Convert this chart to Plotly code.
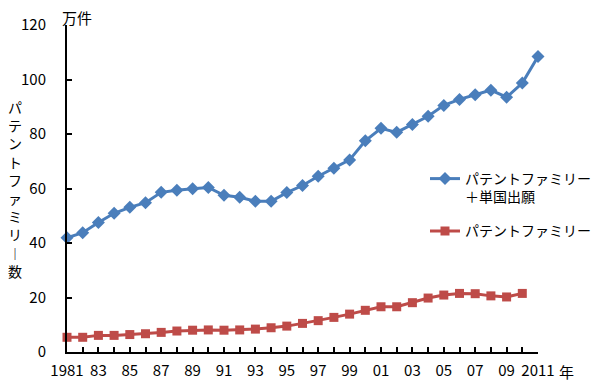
import plotly.graph_objects as go

years_blue = list(range(1981, 2012))
family_plus_single = [41.9, 43.8, 47.5, 50.9, 53.1, 54.8, 58.6, 59.4, 59.9, 60.4,
                      57.5, 56.8, 55.3, 55.3, 58.5, 61.1, 64.5, 67.4, 70.5, 77.5,
                      82.1, 80.6, 83.5, 86.5, 90.5, 92.7, 94.4, 96.1, 93.5, 98.7, 108.4]
years_red = list(range(1981, 2011))
family_only = [5.4, 5.4, 6.1, 6.1, 6.4, 6.7, 7.2, 7.7, 8.0, 8.1,
               8.0, 8.1, 8.4, 8.9, 9.5, 10.5, 11.5, 12.7, 13.9, 15.3,
               16.6, 16.6, 18.1, 19.8, 20.9, 21.5, 21.4, 20.6, 20.2, 21.5]

tick_years = list(range(1981, 2012))
tick_text = []
for y in tick_years:
    if y == 1981 or y == 2011:
        tick_text.append(str(y))
    elif y % 2 == 1:
        tick_text.append("%02d" % (y % 100))
    else:
        tick_text.append("")

name_blue = "パテントファミリー<br>＋単国出願"
name_red = "パテントファミリー"
y_title = ["パ", "テ", "ン", "ト", "フ", "ァ", "ミ", "リ", "︱", "数"]

FONT = "Noto Sans CJK JP, Liberation Sans, sans-serif"

# page body has an 8px margin; plot area target: x 67..538, y 25..352 on screen
W, H = 592, 375
L, T = 59, 17
PW, PH = 471, 327
R = W - L - PW
B = H - T - PH


def px(x):
    return (x - 67) / PW


def py(y):
    return (352 - y) / PH


fig = go.Figure()
fig.add_trace(go.Scatter(
    x=years_blue, y=family_plus_single, name=name_blue, mode="lines+markers",
    legendgroup="a",
    line=dict(color="#4a7ebb", width=3),
    marker=dict(symbol="diamond", size=10, color="#4a7ebb"),
    cliponaxis=False,
))
fig.add_trace(go.Scatter(
    x=years_red, y=family_only, name=name_red, mode="lines+markers",
    legendgroup="b",
    line=dict(color="#be4b48", width=3),
    marker=dict(symbol="square", size=9, color="#be4b48"),
    cliponaxis=False,
))

fig.update_layout(
    width=W, height=H,
    margin=dict(l=L, r=R, t=T, b=B, pad=0, autoexpand=False),
    paper_bgcolor="white", plot_bgcolor="white",
    font=dict(family=FONT, size=15, color="black"),
    showlegend=True,
    legend=dict(x=px(425), y=py(163), xanchor="left", yanchor="top",
                bgcolor="rgba(0,0,0,0)", valign="top",
                font=dict(size=14, color="black"), tracegroupgap=13,
                itemwidth=30),
    xaxis=dict(range=[1981, 2011], tickvals=tick_years, ticktext=tick_text,
               showline=True, linecolor="black", linewidth=2,
               ticks="inside", ticklen=5, tickwidth=1.5, tickcolor="black",
               showgrid=False, zeroline=False, tickangle=0, automargin=False,
               ticklabelstandoff=4,
               tickfont=dict(size=15, family=FONT)),
    yaxis=dict(range=[0, 120], tickvals=[0, 20, 40, 60, 80, 100, 120],
               showline=True, linecolor="black", linewidth=2,
               ticks="inside", ticklen=5, tickwidth=1.5, tickcolor="black",
               showgrid=False, zeroline=False, ticklabelstandoff=16,
               automargin=False,
               tickfont=dict(size=15, family=FONT)),
)

fig.add_annotation(text="万件", xref="paper", yref="paper", x=px(77),
                   y=py(17), showarrow=False, xanchor="center",
                   yanchor="middle", font=dict(size=15, family=FONT))
fig.add_annotation(text="年", xref="paper", yref="paper", x=px(566),
                   y=py(371), showarrow=False, xanchor="center",
                   yanchor="middle", font=dict(size=15, family=FONT))
fig.add_annotation(text="<br>".join(y_title), xref="paper", yref="paper",
                   x=px(15), y=py(189), showarrow=False,
                   xanchor="center", yanchor="middle",
                   font=dict(size=14, family=FONT), align="center")

fig.write_html("out.html")
